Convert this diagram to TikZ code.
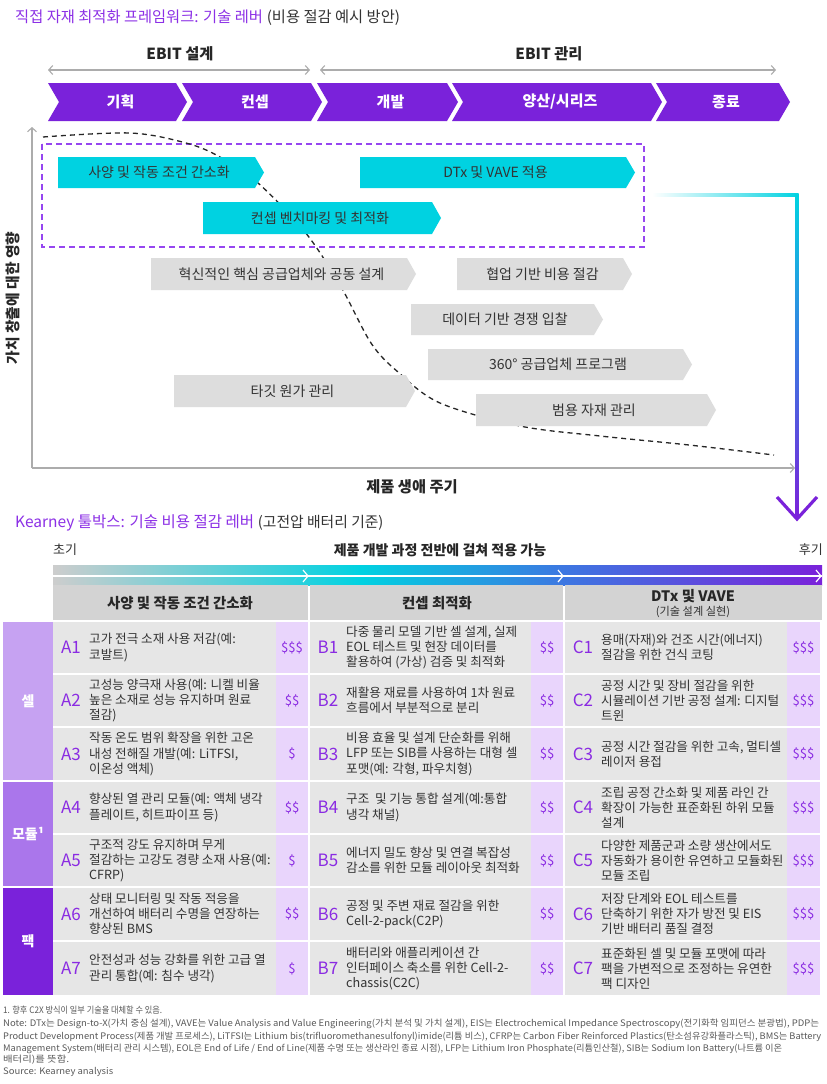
\documentclass[tikz,border=0pt]{standalone}
\usepackage{fontspec}
\usepackage{graphicx}
\setmainfont{Noto Sans CJK KR}
\usetikzlibrary{arrows.meta}
\definecolor{pmain}{RGB}{122,34,218}
\definecolor{ptitle}{RGB}{140,48,230}
\definecolor{pdash}{RGB}{150,70,240}
\definecolor{cyanbox}{RGB}{0,210,225}
\definecolor{graybox}{RGB}{221,221,221}
\definecolor{cellgray}{RGB}{230,230,230}
\definecolor{headgray}{RGB}{211,211,211}
\definecolor{lav}{RGB}{233,213,252}
\definecolor{catone}{RGB}{198,162,242}
\definecolor{cattwo}{RGB}{170,118,235}
\definecolor{catthree}{RGB}{122,34,218}
\definecolor{txt}{RGB}{51,51,51}
\definecolor{axisgray}{RGB}{172,172,172}
\definecolor{bluemid}{RGB}{60,120,225}
\definecolor{bargray}{RGB}{205,205,205}
\definecolor{codep}{RGB}{138,43,226}
\newsavebox\fitbox
\newcommand\fitw[2]{\sbox\fitbox{#2}\resizebox{#1}{\ht\fitbox}{\usebox\fitbox}}
\tikzset{
 chevtxt/.style={text=white, font=\fontsize{15}{17}\selectfont\bfseries, inner sep=0},
 boxtxt/.style={text=txt, font=\fontsize{14}{16}\selectfont, inner sep=0},
 codetxt/.style={text=codep, font=\fontsize{17}{19}\selectfont, inner sep=0},
 celltxt/.style={text=txt, font=\fontsize{12.6}{15.2}\selectfont, align=left, inner sep=0, anchor=west},
 doltxt/.style={text=codep, font=\fontsize{13}{15}\selectfont, inner sep=0},
 cattxt/.style={text=white, font=\fontsize{14}{16}\selectfont\bfseries, inner sep=0},
 headtxt/.style={text=black!85, font=\fontsize{14.4}{17}\selectfont\bfseries, inner sep=0},
 axline/.style={draw=axisgray, line width=1.1pt},
 notetxt/.style={text=black!65, font=\fontsize{9}{11}\selectfont, inner sep=0, anchor=base west},
 boldlab/.style={text=black!85, font=\fontsize{15.3}{18}\selectfont\bfseries, inner sep=0},
}
% chevron: name, x1, tip, label
\newcommand\chev[4]{%
 \fill[pmain] (#2,83) -- (#3-11,83) -- (#3,102) -- (#3-11,121) -- (#2,121) -- (#2+11,102) -- cycle;
 \node[chevtxt] (#1) at ({(#2+#3)/2+3},102) {#4};}
% arrow box: name, x1, y1, x2, y2, colour, text
\newcommand\abox[7]{%
 \fill[#6] (#2,#3) -- (#4-9,#3) -- (#4,{(#3+#5)/2}) -- (#4-9,#5) -- (#2,#5) -- cycle;
 \node[boxtxt] (#1) at ({(#2+#4)/2-2},{(#3+#5)/2}) {#7};}
% table cell: name, xs, xl, xe, yt, yb, code, text, dollars
\newcommand\tcell[9]{%
 \fill[cellgray] (#2,#5) rectangle (#3,#6);
 \fill[lav] (#3,#5) rectangle (#4,#6);
 \node[codetxt] (#1c) at ({#2+18},{(#5+#6)/2}) {#7};
 \node[celltxt] (#1t) at ({#2+36},{(#5+#6)/2}) {#8};
 \node[doltxt] (#1d) at ({(#3+#4)/2},{(#5+#6)/2}) {#9};}
\begin{document}
\begin{tikzpicture}[x=1pt,y=-1pt]
\useasboundingbox (0,0) rectangle (827,1084);
\fill[white] (0,0) rectangle (827,1084);

% ---------- title ----------
\node[anchor=base west, inner sep=0] (title) at (15,23)
 {\fontsize{15.3}{18}\selectfont\textcolor{ptitle}{직접 자재 최적화 프레임워크: 기술 레버}\hspace{0.25em}\textcolor{txt}{(비용 절감 예시 방안)}};

% ---------- EBIT ----------
\node[boldlab] (ebit1) at (180,54) {EBIT 설계};
\node[boldlab] (ebit2) at (549,54) {EBIT 관리};
\coordinate (e1l) at (48,70); \coordinate (e1r) at (310,70);
\coordinate (e2l) at (320,70); \coordinate (e2r) at (776,70);
\draw[axline, {Straight Barb[length=4pt,width=9pt]}-{Straight Barb[length=4pt,width=9pt]}] (e1l) -- (e1r);
\draw[axline, {Straight Barb[length=4pt,width=9pt]}-{Straight Barb[length=4pt,width=9pt]}] (e2l) -- (e2r);

% ---------- chevrons ----------
\chev{ch1}{48}{187}{기획}
\chev{ch2}{182}{322}{컨셉}
\chev{ch3}{317}{458}{개발}
\chev{ch4}{452}{662}{양산/시리즈}
\chev{ch5}{656}{790}{종료}

% ---------- axes ----------
\coordinate (orig) at (32,468);
\coordinate (ytop) at (32,127);
\coordinate (xend) at (795,468);
\draw[axline, -{Straight Barb[length=4pt,width=9pt]}] (orig) -- (ytop);
\draw[axline, -{Straight Barb[length=4pt,width=9pt]}] (orig) -- (xend);
\node[boldlab, font=\fontsize{14.8}{17}\selectfont\bfseries, rotate=90] (ylab) at (13,298) {가치 창출에 대한 영향};
\node[boldlab] (xlab) at (412,487) {제품 생애 주기};

% ---------- dashed frame & curve ----------
\draw[pdash, line width=1.3pt, dash pattern=on 6pt off 4pt] (42,144) rectangle (644,247);
\draw[black!85, line width=1.3pt, dash pattern=on 5pt off 4pt] plot[smooth, tension=0.55] coordinates
 {(43,137) (130,133) (186,143) (220,157) (258,183) (305,232) (340,285) (371,343) (398,372) (440,403) (520,426) (600,436) (689,445) (774,455)};

% ---------- boxes ----------
\abox{b1}{58}{157}{264}{188}{cyanbox}{사양 및 작동 조건 간소화}
\abox{b2}{360}{157}{635}{188}{cyanbox}{DTx 및 VAVE 적용}
\abox{b3}{203}{202}{441}{234}{cyanbox}{컨셉 벤치마킹 및 최적화}
\abox{g1}{151}{258}{416}{290}{graybox}{혁신적인 핵심 공급업체와 공동 설계}
\abox{g2}{457}{258}{632}{290}{graybox}{협업 기반 비용 절감}
\abox{g3}{411}{304}{603}{335}{graybox}{데이터 기반 경쟁 입찰}
\abox{g4}{428}{349}{692}{380}{graybox}{360° 공급업체 프로그램}
\abox{g5}{174}{375}{415}{407}{graybox}{타깃 원가 관리}
\abox{g6}{476}{394}{716}{426}{graybox}{범용 자재 관리}

% ---------- gradient connector ----------
\coordinate (gs) at (652,195);
\coordinate (gc) at (797,195);
\coordinate (ge) at (797,519);
\shade[left color=white, right color=cyanbox] (652,193.4) rectangle (798.6,196.6);
\shade[top color=cyanbox, bottom color=pmain, middle color=bluemid] (795.4,195) rectangle (798.6,517);
\draw[pmain, line width=3.2pt, line join=miter] (777,497) -- (ge) -- (817,497);

% ---------- second title ----------
\node[anchor=base west, inner sep=0] (title2) at (15,527)
 {\fontsize{15.5}{18}\selectfont\textcolor{ptitle}{Kearney 툴박스: 기술 비용 절감 레버}\hspace{0.25em}\fontsize{14.8}{18}\selectfont\textcolor{txt}{(고전압 배터리 기준)}};

\node[text=txt, font=\fontsize{13}{15}\selectfont, inner sep=0] (early) at (65,550) {초기};
\node[text=black!85, font=\fontsize{14}{16}\selectfont\bfseries, inner sep=0] (span) at (440,550) {제품 개발 과정 전반에 걸쳐 적용 가능};
\node[text=txt, font=\fontsize{13}{15}\selectfont, inner sep=0, anchor=east] (late) at (823,550) {후기};

% ---------- gradient bar ----------
\shade[left color=bargray, right color=cyanbox] (53,565) rectangle (361,585);
\shade[left color=cyanbox, right color=bluemid] (360,565) rectangle (561,585);
\shade[left color=bluemid, right color=pmain] (560,565) rectangle (822,585);
\draw[white, line width=1.2pt] (53,576) -- (822,576);
\foreach \x in {308,563,821} \draw[white, line width=1.2pt] (\x-5,570) -- (\x,576) -- (\x-5,582);

% ---------- header ----------
\fill[headgray] (53,585) rectangle (308,620);
\fill[headgray] (310,585) rectangle (563,620);
\fill[headgray] (565,585) rectangle (822,620);
\node[headtxt] (h1) at (180,603) {사양 및 작동 조건 간소화};
\node[headtxt] (h2) at (437,603) {컨셉 최적화};
\node[headtxt] (h3) at (693,596) {DTx 및 VAVE};
\node[text=txt, font=\fontsize{11.2}{13}\selectfont, inner sep=0] (h3s) at (693,612) {(기술 설계 실현)};

% ---------- categories ----------
\fill[catone] (3,622) rectangle (53,780);
\fill[cattwo] (3,782) rectangle (53,886);
\fill[catthree] (3,888) rectangle (53,995);
\node[cattxt] (k1) at (28,701) {셀};
\node[cattxt] (k2) at (28,834) {모듈¹};
\node[cattxt] (k3) at (28,941) {팩};

% ---------- column A ----------
\tcell{a1}{53}{276}{308}{622}{673}{A1}{고가 전극 소재 사용 저감(예:\\코발트)}{\$\$\$}
\tcell{a2}{53}{276}{308}{675}{726}{A2}{고성능 양극재 사용(예: 니켈 비율\\높은 소재로 성능 유지하며 원료\\절감)}{\$\$}
\tcell{a3}{53}{276}{308}{728}{780}{A3}{작동 온도 범위 확장을 위한 고온\\내성 전해질 개발(예: LiTFSI,\\이온성 액체)}{\$}
\tcell{a4}{53}{276}{308}{782}{833}{A4}{향상된 열 관리 모듈(예: 액체 냉각\\플레이트, 히트파이프 등)}{\$\$}
\tcell{a5}{53}{276}{308}{835}{886}{A5}{구조적 강도 유지하며 무게\\절감하는 고강도 경량 소재 사용(예:\\CFRP)}{\$}
\tcell{a6}{53}{276}{308}{888}{940}{A6}{상태 모니터링 및 작동 적응을\\개선하여 배터리 수명을 연장하는\\향상된 BMS}{\$\$}
\tcell{a7}{53}{276}{308}{942}{995}{A7}{안전성과 성능 강화를 위한 고급 열\\관리 통합(예: 침수 냉각)}{\$}

% ---------- column B ----------
\tcell{b1}{310}{531}{563}{622}{673}{B1}{다중 물리 모델 기반 셀 설계, 실제\\EOL 테스트 및 현장 데이터를\\활용하여 (가상) 검증 및 최적화}{\$\$}
\tcell{b2}{310}{531}{563}{675}{726}{B2}{재활용 재료를 사용하여 1차 원료\\흐름에서 부분적으로 분리}{\$\$}
\tcell{b3}{310}{531}{563}{728}{780}{B3}{비용 효율 및 설계 단순화를 위해\\LFP 또는 SIB를 사용하는 대형 셀\\포맷(예: 각형, 파우치형)}{\$\$}
\tcell{b4}{310}{531}{563}{782}{833}{B4}{구조\ \ 및 기능 통합 설계(예:통합\\냉각 채널)}{\$\$}
\tcell{b5}{310}{531}{563}{835}{886}{B5}{에너지 밀도 향상 및 연결 복잡성\\감소를 위한 모듈 레이아웃 최적화}{\$\$}
\tcell{b6}{310}{531}{563}{888}{940}{B6}{공정 및 주변 재료 절감을 위한\\Cell-2-pack(C2P)}{\$\$}
\tcell{b7}{310}{531}{563}{942}{995}{B7}{배터리와 애플리케이션 간\\인터페이스 축소를 위한 Cell-2-\\chassis(C2C)}{\$\$}

% ---------- column C ----------
\tcell{c1}{565}{787}{820}{622}{673}{C1}{용매(자재)와 건조 시간(에너지)\\절감을 위한 건식 코팅}{\$\$\$}
\tcell{c2}{565}{787}{820}{675}{726}{C2}{공정 시간 및 장비 절감을 위한\\시뮬레이션 기반 공정 설계: 디지털\\트윈}{\$\$\$}
\tcell{c3}{565}{787}{820}{728}{780}{C3}{공정 시간 절감을 위한 고속, 멀티셀\\레이저 용접}{\$\$\$}
\tcell{c4}{565}{787}{820}{782}{833}{C4}{조립 공정 간소화 및 제품 라인 간\\확장이 가능한 표준화된 하위 모듈\\설계}{\$\$\$}
\tcell{c5}{565}{787}{820}{835}{886}{C5}{다양한 제품군과 소량 생산에서도\\자동화가 용이한 유연하고 모듈화된\\모듈 조립}{\$\$\$}
\tcell{c6}{565}{787}{820}{888}{940}{C6}{저장 단계와 EOL 테스트를\\단축하기 위한 자가 방전 및 EIS\\기반 배터리 품질 결정}{\$\$\$}
\tcell{c7}{565}{787}{820}{942}{995}{C7}{표준화된 셀 및 모듈 포맷에 따라\\팩을 가변적으로 조정하는 유연한\\팩 디자인}{\$\$\$}

% ---------- footnotes ----------
\node[notetxt] (fn1) at (3,1013) {\fitw{159pt}{1. 향후 C2X 방식이 일부 기술을 대체할 수 있음.}};
\node[notetxt] (fn2) at (3,1026) {\fitw{816pt}{Note: DTx는 Design-to-X(가치 중심 설계), VAVE는 Value Analysis and Value Engineering(가치 분석 및 가치 설계), EIS는 Electrochemical Impedance Spectroscopy(전기화학 임피던스 분광법), PDP는}};
\node[notetxt] (fn3) at (3,1039) {\fitw{818pt}{Product Development Process(제품 개발 프로세스), LiTFSI는 Lithium bis(trifluoromethanesulfonyl)imide(리튬 비스), CFRP는 Carbon Fiber Reinforced Plastics(탄소섬유강화플라스틱), BMS는 Battery}};
\node[notetxt] (fn4) at (3,1051) {\fitw{779pt}{Management System(배터리 관리 시스템), EOL은 End of Life / End of Line(제품 수명 또는 생산라인 종료 시점), LFP는 Lithium Iron Phosphate(리튬인산철), SIB는 Sodium Ion Battery(나트륨 이온}};
\node[notetxt] (fn5) at (3,1062) {\fitw{66pt}{배터리)를 뜻함.}};
\node[notetxt] (fn6) at (3,1074) {\fitw{110pt}{Source: Kearney analysis}};
\end{tikzpicture}
\end{document}
